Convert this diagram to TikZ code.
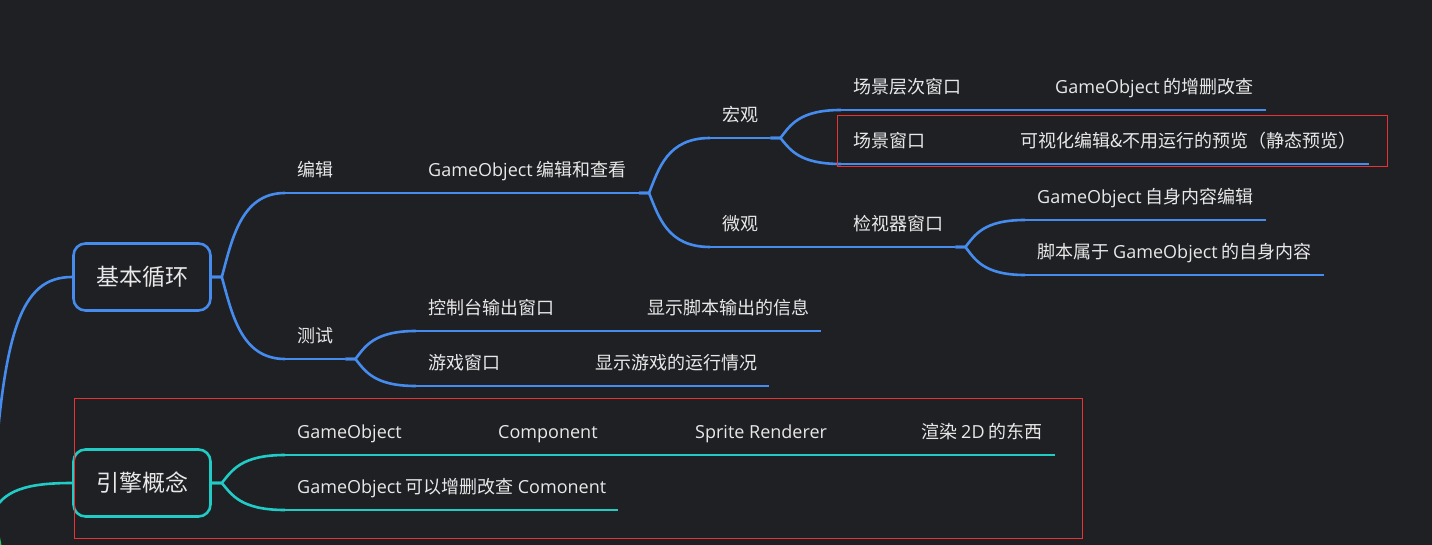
\documentclass[tikz,border=0pt]{standalone}
\usepackage{fontspec}
\setmainfont{Noto Sans CJK SC}
\newfontfamily\lat{Open Sans}
\usepackage{tikz}
\usetikzlibrary{calc}
\definecolor{bgdark}{RGB}{31,32,36}
\definecolor{mapblue}{RGB}{70,140,238}
\definecolor{mapteal}{RGB}{34,204,198}
\definecolor{mapgreen}{RGB}{40,200,90}
\definecolor{markred}{RGB}{235,50,50}
\definecolor{txt}{RGB}{232,232,232}
\tikzset{
  rootbox/.style={draw,line width=2.6pt,rounded corners=12pt,minimum width=137pt,
            minimum height=67pt,font=\fontsize{23}{26}\selectfont,fill=bgdark},
  topic/.style={anchor=south west,inner xsep=12pt,inner ysep=0pt,text depth=16pt,
            font=\fontsize{18}{21}\selectfont},
  bline/.style={mapblue,line width=2.6pt},
  tline/.style={mapteal,line width=2.6pt},
  gline/.style={mapgreen,line width=2.6pt},
  markbox/.style={draw=markred,line width=1.2pt},
}
% curved branch: style, parent anchor, child anchor
\newcommand{\branch}[3]{%
  \draw[#1] let \p1=(#2), \p2=(#3) in (\p1) -- ++(10pt,0)
    .. controls ({\x1+10pt+0.16*(\x2-\x1-10pt)},{\y1+0.44*(\y2-\y1)})
       and ({\x1+10pt+0.3*(\x2-\x1-10pt)},{\y2}) .. (\p2);}

\begin{document}
\begin{tikzpicture}[x=1pt,y=-1pt,every node/.style={text=txt}]
  \path[use as bounding box,fill=bgdark] (0,0) rectangle (1432,545);
  \clip (0,0) rectangle (1432,545);

  \coordinate (hub) at (-8,515);
  \coordinate (offdown) at (6,620);

  % roots
  \node[rootbox,draw=mapblue] (loop) at (142,277) {基本循环};
  \node[rootbox,draw=mapteal] (engine) at (142,483) {引擎概念};

  % editing branch
  \node[topic] (edit) at (285,193) {编辑};
  \node[topic] (goEdit) at (416,193) {{\lat GameObject} 编辑和查看};
  \node[topic] (macro) at (710,138) {宏观};
  \node[topic] (hier) at (841,110) {场景层次窗口};
  \node[topic] (hierDesc) at (1043,110) {{\lat GameObject} 的增删改查};
  \node[topic] (scene) at (841,164) {场景窗口};
  \node[topic] (sceneDesc) at (1008,164) {可视化编辑\&不用运行的预览（静态预览）};
  \node[topic] (micro) at (710,247) {微观};
  \node[topic] (insp) at (841,247) {检视器窗口};
  \node[topic] (inspA) at (1025,220) {{\lat GameObject} 自身内容编辑};
  \node[topic] (inspB) at (1025,275) {脚本属于 {\lat GameObject} 的自身内容};

  % testing branch
  \node[topic] (test) at (285,359) {测试};
  \node[topic] (console) at (416,331) {控制台输出窗口};
  \node[topic] (consoleDesc) at (635,331) {显示脚本输出的信息};
  \node[topic] (game) at (416,386) {游戏窗口};
  \node[topic] (gameDesc) at (583,386) {显示游戏的运行情况};

  % engine concepts
  \node[topic] (go) at (285,455) {\lat GameObject};
  \node[topic] (comp) at (486,455) {\lat Component};
  \node[topic] (sprite) at (683,455) {\lat Sprite Renderer};
  \node[topic] (render) at (909,455) {渲染 {\lat 2D} 的东西};
  \node[topic] (goComp) at (285,510) {{\lat GameObject} 可以增删改查 {\lat Comonent}};

  % underlines
  \foreach \n in {edit,goEdit,macro,hier,hierDesc,scene,sceneDesc,micro,insp,inspA,inspB,
                  test,console,consoleDesc,game,gameDesc}
    \draw[bline] (\n.south west) -- (\n.south east);
  \foreach \n in {go,comp,sprite,render,goComp}
    \draw[tline] (\n.south west) -- (\n.south east);

  % connectors
  \draw[bline] (hub) .. controls +(10,-185) and +(-52,0) .. (loop.west);
  \draw[tline] (hub) .. controls +(10,-25) and +(-45,0) .. (engine.west);
  \draw[gline] (hub) .. controls +(9,20) and +(0,-40) .. (offdown);

  \branch{bline}{loop.east}{edit.south west}
  \branch{bline}{loop.east}{test.south west}
  \draw[bline] (edit.south east) -- (goEdit.south west);
  \branch{bline}{goEdit.south east}{macro.south west}
  \branch{bline}{goEdit.south east}{micro.south west}
  \branch{bline}{macro.south east}{hier.south west}
  \branch{bline}{macro.south east}{scene.south west}
  \draw[bline] (hier.south east) -- (hierDesc.south west);
  \draw[bline] (scene.south east) -- (sceneDesc.south west);
  \draw[bline] (micro.south east) -- (insp.south west);
  \branch{bline}{insp.south east}{inspA.south west}
  \branch{bline}{insp.south east}{inspB.south west}
  \branch{bline}{test.south east}{console.south west}
  \branch{bline}{test.south east}{game.south west}
  \draw[bline] (console.south east) -- (consoleDesc.south west);
  \draw[bline] (game.south east) -- (gameDesc.south west);

  \branch{tline}{engine.east}{go.south west}
  \branch{tline}{engine.east}{goComp.south west}
  \draw[tline] (go.south east) -- (comp.south west);
  \draw[tline] (comp.south east) -- (sprite.south west);
  \draw[tline] (sprite.south east) -- (render.south west);

  % highlight frames
  \draw[markbox] (837.5,115.5) rectangle (1387.5,166.5);
  \draw[markbox] (74.5,398.5) rectangle (1082.5,538.5);
\end{tikzpicture}
\end{document}
